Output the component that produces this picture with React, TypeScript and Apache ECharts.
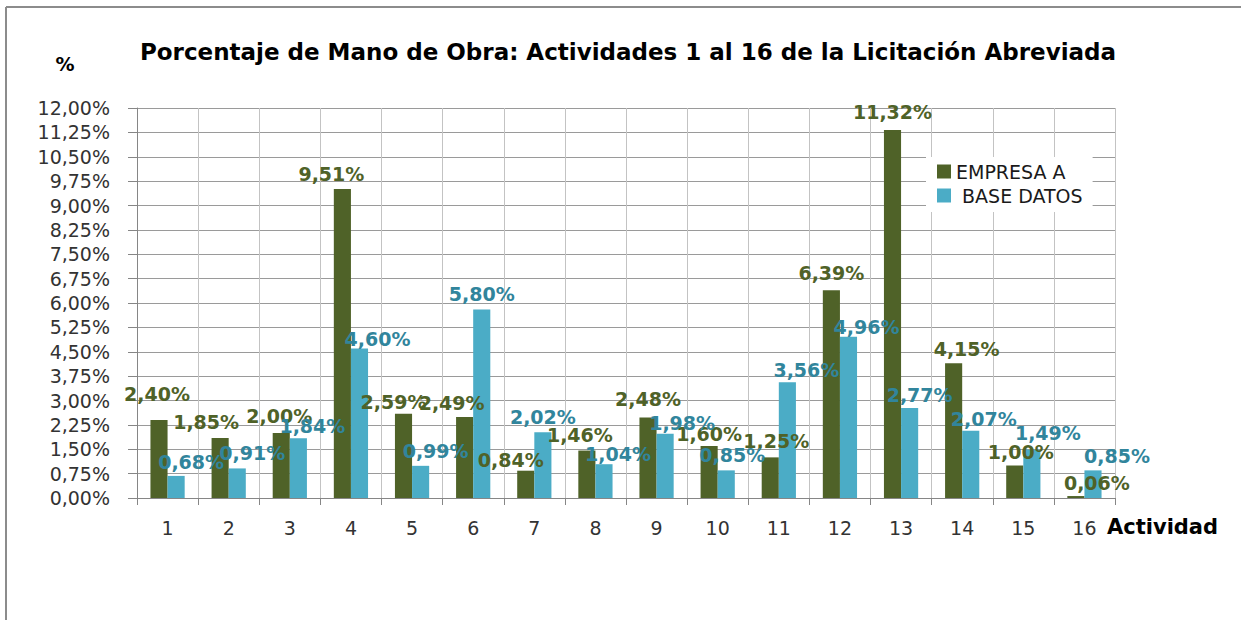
import React, { useEffect, useRef } from "react";
import * as echarts from "echarts";

const categories = ["1", "2", "3", "4", "5", "6", "7", "8", "9", "10", "11", "12", "13", "14", "15", "16"];
const empresaA = [2.4, 1.85, 2.0, 9.51, 2.59, 2.49, 0.84, 1.46, 2.48, 1.6, 1.25, 6.39, 11.32, 4.15, 1.0, 0.06];
const baseDatos = [0.68, 0.91, 1.84, 4.6, 0.99, 5.8, 2.02, 1.04, 1.98, 0.85, 3.56, 4.96, 2.77, 2.07, 1.49, 0.85];
const seriesNames = ["EMPRESA A", " BASE DATOS"];
const yMin = 0;
const yMax = 12;
const yInterval = 0.75;

// label nudges (style only), [dx, dy] in px
const empresaLabelShift = [
  [-2, -16], [-14, -6], [-2, -7], [-11, -5], [-10, -2], [-13, -4], [-15, -1], [-7, -6],
  [0, -8], [0, -2], [6, -6], [0, -7], [0, -8], [13, -4], [6, -4], [21, -3],
];
const baseLabelShift = [
  [15, -4], [15, -5], [14, -2], [18, 0], [15, -5], [0, -6], [0, -5], [14, 0],
  [17, -1], [6, -5], [19, -2], [18, 0], [10, -3], [13, -2], [16, -7], [24, -4],
];

const fmt = (v: number) => v.toFixed(2).replace(".", ",") + "%";

export default function App() {
  const ref = useRef<HTMLDivElement>(null);
  useEffect(() => {
    document.body.style.margin = "0";
    if (!ref.current) return;
    const chart = echarts.init(ref.current, undefined, { renderer: "svg" });
    const font = "DejaVu Sans";
    const labelBase = {
      show: true,
      position: "top",
      distance: 0,
      fontFamily: font,
      fontWeight: "bold",
      fontSize: 19,
      lineHeight: 20,
      formatter: (p: any) => fmt(p.value),
    };
    chart.setOption({
      animation: false,
      backgroundColor: "#ffffff",
      textStyle: { fontFamily: font },
      grid: { left: 137, right: 126, top: 108, bottom: 122, containLabel: false },
      legend: {
        orient: "vertical",
        left: 926,
        top: 157,
        padding: [4, 10, 6, 11],
        itemGap: 3,
        itemWidth: 14,
        itemHeight: 14,
        icon: "rect",
        backgroundColor: "#ffffff",
        textStyle: { fontFamily: font, fontSize: 19, lineHeight: 21, color: "#1a1a1a" },
        data: seriesNames,
      },
      xAxis: {
        type: "category",
        data: categories,
        boundaryGap: true,
        axisLine: { show: true, lineStyle: { color: "#868686", width: 1 } },
        axisTick: { show: true, alignWithLabel: false, length: 7, lineStyle: { color: "#868686" } },
        axisLabel: { fontFamily: font, fontSize: 19, color: "#333333", margin: 20 },
        splitLine: { show: true, lineStyle: { color: "#c3c3c3", width: 1 } },
      },
      yAxis: {
        type: "value",
        min: yMin,
        max: yMax,
        interval: yInterval,
        axisLine: { show: true, lineStyle: { color: "#868686", width: 1 } },
        axisTick: { show: true, length: 9, lineStyle: { color: "#868686" } },
        axisLabel: { fontFamily: font, fontSize: 19, color: "#333333", margin: 27, formatter: (v: number) => fmt(v) },
        splitLine: { show: true, lineStyle: { color: "#9a9a9a", width: 1 } },
      },
      series: [
        {
          name: seriesNames[0],
          type: "bar",
          barGap: "0%",
          barCategoryGap: "44%",
          itemStyle: { color: "#4F6228" },
          label: { ...labelBase, color: "#4F6228" },
          data: empresaA.map((v, i) => ({ value: v, label: { offset: empresaLabelShift[i] } })),
          z: 3,
        },
        {
          name: seriesNames[1],
          type: "bar",
          barGap: "0%",
          barCategoryGap: "44%",
          itemStyle: { color: "#4BACC6" },
          label: { ...labelBase, color: "#31859C" },
          data: baseDatos.map((v, i) => ({ value: v, label: { offset: baseLabelShift[i] } })),
          z: 3,
        },
      ],
      graphic: [
        { type: "line", shape: { x1: 6, y1: 7, x2: 1241, y2: 7 }, style: { stroke: "#8c8c8c", lineWidth: 2 } },
        { type: "line", shape: { x1: 6, y1: 7, x2: 6, y2: 620 }, style: { stroke: "#8c8c8c", lineWidth: 2 } },
        {
          type: "text",
          x: 628,
          y: 52,
          style: {
            text: "Porcentaje de Mano de Obra: Actividades 1 al 16 de la Licitación Abreviada",
            fontFamily: font,
            fontWeight: "bold",
            fontSize: 23,
            fill: "#000000",
            align: "center",
            verticalAlign: "middle",
          },
        },
        {
          type: "text",
          x: 65,
          y: 64,
          style: { text: "%", fontFamily: font, fontWeight: "bold", fontSize: 19, fill: "#000000", align: "center", verticalAlign: "middle" },
        },
        {
          type: "text",
          x: 1107,
          y: 527,
          style: { text: "Actividad", fontFamily: font, fontWeight: "bold", fontSize: 21, fill: "#000000", align: "left", verticalAlign: "middle" },
        },
      ],
    });
    return () => chart.dispose();
  }, []);
  return <div ref={ref} style={{ width: 1241, height: 620 }} />;
}
